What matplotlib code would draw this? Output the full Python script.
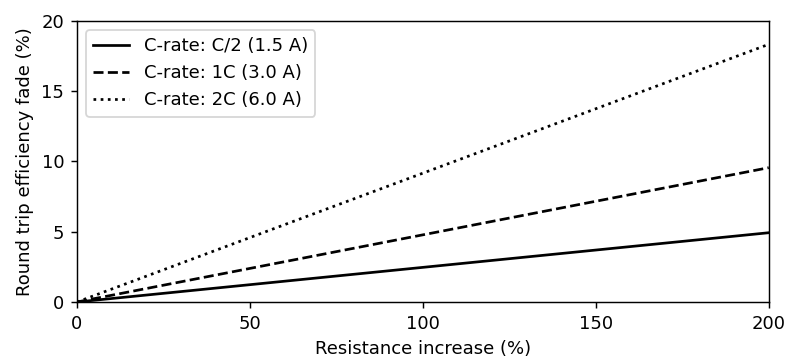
import matplotlib
matplotlib.use("Agg")
import matplotlib.pyplot as plt

resistance = [0, 200]
fade_c2 = [0, 4.93]
fade_1c = [0, 9.56]
fade_2c = [0, 18.34]

dpi = 130
fig = plt.figure(figsize=(787 / dpi, 356 / dpi), dpi=dpi)
ax = fig.add_axes([0.0978, 0.1517, 0.879, 0.7893])

ax.plot(resistance, fade_c2, color='black', ls='-', lw=1.5, label='C-rate: C/2 (1.5 A)')
ax.plot(resistance, fade_1c, color='black', ls='--', lw=1.5, label='C-rate: 1C (3.0 A)')
ax.plot(resistance, fade_2c, color='black', ls=':', lw=1.5, label='C-rate: 2C (6.0 A)')

ax.set_xlim(0, 200)
ax.set_ylim(0, 20)
ax.set_xticks([0, 50, 100, 150, 200])
ax.set_yticks([0, 5, 10, 15, 20])
ax.set_xlabel('Resistance increase (%)')
ax.set_ylabel('Round trip efficiency fade (%)')
ax.legend(loc='upper left')

fig.savefig('out.png', dpi=dpi)
